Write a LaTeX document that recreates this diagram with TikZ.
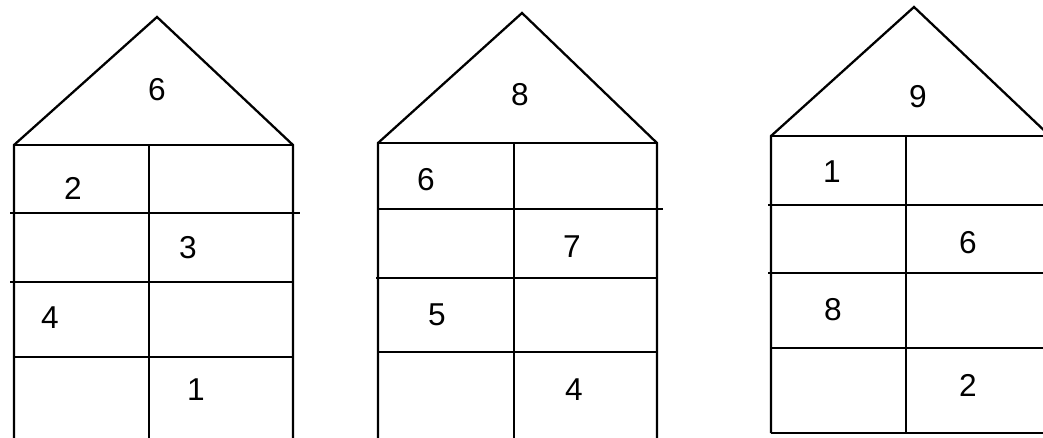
\documentclass[tikz,border=0pt]{standalone}
\usepackage{fontspec}
\setmainfont{Liberation Sans}
\begin{document}
\begin{tikzpicture}[x=0.02cm,y=-0.02cm,line width=1.3pt,line join=miter,
  num/.style={font=\fontsize{18}{18}\selectfont,inner sep=0pt},
  roofnum/.style={font=\fontsize{18}{18}\selectfont,inner sep=0pt}]
\useasboundingbox (0,0) rectangle (1043,437);
\clip (0,0) rectangle (1043,437);
% house 1
\draw (14,440) -- (14,145) -- (157,17) -- (293,145) -- (293,440);
\draw (14,145) -- (293,145);
\draw (149,145) -- (149,440);
\draw (10,213) -- (300,213);
\draw (10,282) -- (293,282);
\draw (14,357) -- (293,357);
\node[roofnum] (h1top) at (157,90) {6};
\node[num] (h1a) at (73,188) {2};
\node[num] (h1b) at (188,248) {3};
\node[num] (h1c) at (50,318) {4};
\node[num] (h1d) at (196,390) {1};
% house 2
\draw (378,440) -- (378,143) -- (522,13) -- (657,143) -- (657,440);
\draw (378,143) -- (657,143);
\draw (514,143) -- (514,440);
\draw (378,209) -- (663,209);
\draw (376,278) -- (657,278);
\draw (378,352) -- (657,352);
\node[roofnum] (h2top) at (520,95) {8};
\node[num] (h2a) at (426,180) {6};
\node[num] (h2b) at (572,247) {7};
\node[num] (h2c) at (437,315) {5};
\node[num] (h2d) at (574,390) {4};
% house 3
\draw (771,433) -- (771,136) -- (914,7) -- (1050,136) -- (1050,433);
\draw (771,136) -- (1050,136);
\draw (906,136) -- (906,433);
\draw (768,205) -- (1050,205);
\draw (768,273) -- (1050,273);
\draw (771,348) -- (1050,348);
\draw (771,433) -- (1050,433);
\node[roofnum] (h3top) at (918,97) {9};
\node[num] (h3a) at (832,172) {1};
\node[num] (h3b) at (968,243) {6};
\node[num] (h3c) at (833,310) {8};
\node[num] (h3d) at (968,385) {2};
\end{tikzpicture}
\end{document}
